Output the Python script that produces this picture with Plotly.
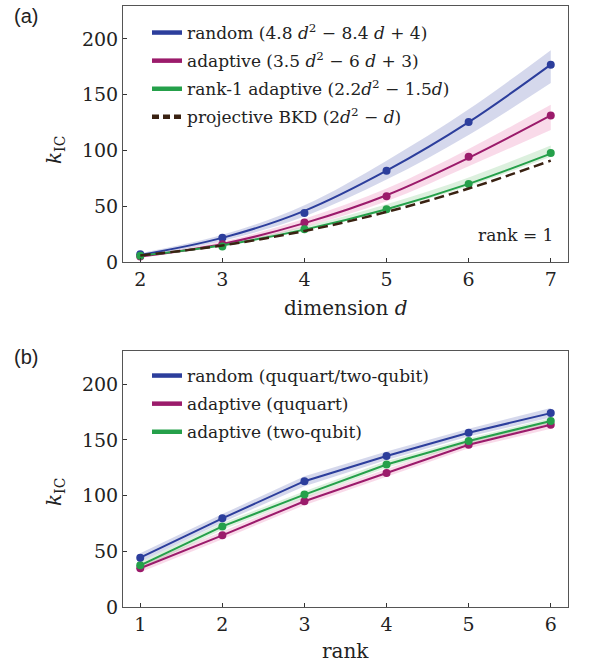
import plotly.graph_objects as go

# ---------------- data: panel (a) ----------------
dims = [2, 3, 4, 5, 6, 7]
rand_pts = [7.2, 21.8, 44.0, 82.0, 125.6, 177.0]
rand_fit = [6.5, 21.8, 46.0, 82.0, 125.5, 177.0]
rand_lo = [5.0, 19.0, 41.0, 74.0, 114.0, 160.5]
rand_hi = [8.0, 24.5, 51.0, 91.0, 137.0, 190.0]

adap_pts = [5.0, 16.0, 35.6, 59.0, 94.5, 131.5]
adap_fit = [5.0, 16.3, 35.0, 60.0, 93.5, 131.5]
adap_lo = [4.0, 14.5, 31.5, 54.5, 86.0, 118.5]
adap_hi = [6.0, 18.5, 39.0, 66.0, 101.5, 141.0]

r1_pts = [5.8, 14.0, 29.6, 47.5, 70.0, 97.8]
r1_fit = [5.8, 15.2, 29.2, 47.5, 70.2, 97.3]
r1_lo = [5.5, 14.0, 28.5, 46.0, 68.0, 94.5]
r1_hi = [6.2, 16.2, 32.0, 52.0, 76.0, 104.5]

bkd_fit = [6.0, 15.0, 28.0, 45.0, 66.0, 91.0]

# ---------------- data: panel (b) ----------------
ranks = [1, 2, 3, 4, 5, 6]
rb_rand = [44.5, 79.7, 113.0, 135.5, 156.4, 174.0]
rb_rand_lo = [40.5, 76.0, 108.5, 132.0, 153.0, 170.0]
rb_rand_hi = [48.5, 83.5, 117.5, 139.5, 160.0, 178.5]

rb_quq = [35.0, 64.5, 95.0, 120.3, 145.7, 163.6]
rb_quq_lo = [31.5, 61.0, 91.5, 117.0, 142.5, 160.0]
rb_quq_hi = [38.5, 68.0, 98.5, 123.5, 149.0, 167.0]

rb_2q = [37.6, 72.5, 101.0, 128.0, 149.0, 167.0]
rb_2q_lo = [34.5, 69.5, 98.0, 125.0, 146.5, 164.5]
rb_2q_hi = [40.5, 75.5, 104.0, 131.0, 151.5, 169.5]

labels_a = [
    "random (4.8 <i>d</i><sup>2</sup> − 8.4 <i>d</i> + 4)",
    "adaptive (3.5 <i>d</i><sup>2</sup> − 6 <i>d</i> + 3)",
    "rank-1 adaptive (2.2<i>d</i><sup>2</sup> − 1.5<i>d</i>)",
    "projective BKD (2<i>d</i><sup>2</sup> − <i>d</i>)",
]
labels_b = [
    "random (ququart/two-qubit)",
    "adaptive (ququart)",
    "adaptive (two-qubit)",
]

BLUE = "#2c3e9c"
MAG = "#9b1b6b"
GREEN = "#25a04a"
BROWN = "#3a2212"
BLUE_F = "rgba(44,62,158,0.20)"
MAG_F = "rgba(230,100,165,0.24)"
GREEN_F = "rgba(60,170,70,0.18)"

SERIF = "DejaVu Serif"

fig = go.Figure()


def band(x, lo, hi, color, xa, ya, shape):
    fig.add_trace(go.Scatter(x=x, y=lo, mode="lines", line=dict(width=0, shape=shape, color=color),
                             showlegend=False, hoverinfo="skip", xaxis=xa, yaxis=ya))
    fig.add_trace(go.Scatter(x=x, y=hi, mode="lines", line=dict(width=0, shape=shape, color=color),
                             fill="tonexty", fillcolor=color, showlegend=False, hoverinfo="skip",
                             xaxis=xa, yaxis=ya))


# panel (a) bands
band(dims, rand_lo, rand_hi, BLUE_F, "x", "y", "spline")
band(dims, adap_lo, adap_hi, MAG_F, "x", "y", "spline")
band(dims, r1_lo, r1_hi, GREEN_F, "x", "y", "spline")

# panel (a) curves + points
for fit, pts, col in [(rand_fit, rand_pts, BLUE), (adap_fit, adap_pts, MAG), (r1_fit, r1_pts, GREEN)]:
    fig.add_trace(go.Scatter(x=dims, y=fit, mode="lines", line=dict(color=col, width=2, shape="spline"),
                             showlegend=False, xaxis="x", yaxis="y"))
    fig.add_trace(go.Scatter(x=dims, y=pts, mode="markers", marker=dict(color=col, size=8),
                             showlegend=False, xaxis="x", yaxis="y"))
fig.add_trace(go.Scatter(x=dims, y=bkd_fit, mode="lines",
                         line=dict(color=BROWN, width=2.5, dash="10px,5px", shape="spline"),
                         showlegend=False, xaxis="x", yaxis="y"))

# legend entries (a)
for i, (lab, col, dash) in enumerate(zip(labels_a, [BLUE, MAG, GREEN, BROWN],
                                         ["solid", "solid", "solid", "7px,4px"])):
    fig.add_trace(go.Scatter(x=[None], y=[None], mode="lines", name=lab, legendgroup=f"a{i}",
                             line=dict(color=col, width=4.5, dash=dash),
                             legend="legend", xaxis="x", yaxis="y"))

# panel (b)
band(ranks, rb_rand_lo, rb_rand_hi, BLUE_F, "x2", "y2", "linear")
band(ranks, rb_quq_lo, rb_quq_hi, MAG_F, "x2", "y2", "linear")
band(ranks, rb_2q_lo, rb_2q_hi, GREEN_F, "x2", "y2", "linear")
for ys, col in [(rb_quq, MAG), (rb_2q, GREEN), (rb_rand, BLUE)]:
    fig.add_trace(go.Scatter(x=ranks, y=ys, mode="lines+markers", line=dict(color=col, width=2),
                             marker=dict(color=col, size=8), showlegend=False, xaxis="x2", yaxis="y2"))
for i, (lab, col) in enumerate(zip(labels_b, [BLUE, MAG, GREEN])):
    fig.add_trace(go.Scatter(x=[None], y=[None], mode="lines", name=lab, legendgroup=f"b{i}",
                             line=dict(color=col, width=4.5),
                             legend="legend2", xaxis="x2", yaxis="y2"))

W, H = 592, 669
xdom = [123 / W, 568 / W]
ydom_a = [1 - 262.2 / H, 1 - 5.5 / H]
ydom_b = [1 - 607.3 / H, 1 - 350.6 / H]

axis_common = dict(showline=True, mirror=True, linecolor="#555555", linewidth=1,
                   ticks="inside", ticklen=4, tickcolor="#333333", showgrid=False,
                   zeroline=False, automargin=False,
                   tickfont=dict(family=SERIF, size=19, color="#222222"))

fig.update_layout(
    width=W, height=H,
    margin=dict(l=0, r=0, t=0, b=0),
    paper_bgcolor="white", plot_bgcolor="white",
    xaxis=dict(domain=xdom, range=[1.79, 7.21], tickvals=dims, anchor="y", **axis_common),
    yaxis=dict(domain=ydom_a, range=[0, 230], tickvals=[0, 50, 100, 150, 200], anchor="x", **axis_common),
    xaxis2=dict(domain=xdom, range=[0.79, 6.21], tickvals=ranks, anchor="y2", **axis_common),
    yaxis2=dict(domain=ydom_b, range=[0, 230], tickvals=[0, 50, 100, 150, 200], anchor="x2", **axis_common),
    legend=dict(x=147 / W, y=1 - 15 / H, xanchor="left", yanchor="top", bgcolor="rgba(0,0,0,0)",
                font=dict(family=SERIF, size=17, color="#222222"), tracegroupgap=3, traceorder="grouped"),
    legend2=dict(x=147 / W, y=1 - 358 / H, xanchor="left", yanchor="top", bgcolor="rgba(0,0,0,0)",
                 font=dict(family=SERIF, size=17, color="#222222"), tracegroupgap=3, traceorder="grouped"),
)

ann_font = dict(family=SERIF, size=20, color="#222222")
fig.add_annotation(text="dimension <i>d</i>", x=(123 + 568) / 2 / W, y=1 - 308 / H, xref="paper", yref="paper",
                   showarrow=False, font=ann_font, xanchor="center", yanchor="middle")
fig.add_annotation(text="rank", x=(123 + 568) / 2 / W, y=1 - 651 / H, xref="paper", yref="paper",
                   showarrow=False, font=ann_font, xanchor="center", yanchor="middle")
for yc in [150, 492]:
    fig.add_annotation(text="<i>k</i><sub>IC</sub>", x=55 / W, y=1 - yc / H, xref="paper", yref="paper",
                       showarrow=False, font=ann_font, textangle=-90, xanchor="center", yanchor="middle")
fig.add_annotation(text="rank = 1", x=555 / W, y=1 - 235 / H, xref="paper", yref="paper",
                   showarrow=False, font=dict(family=SERIF, size=17, color="#222222"),
                   xanchor="right", yanchor="middle")
sans = dict(family="Liberation Sans", size=20, color="#222222")
fig.add_annotation(text="(a)", x=12 / W, y=1 - 16 / H, xref="paper", yref="paper",
                   showarrow=False, font=sans, xanchor="left", yanchor="middle")
fig.add_annotation(text="(b)", x=12 / W, y=1 - 357 / H, xref="paper", yref="paper",
                   showarrow=False, font=sans, xanchor="left", yanchor="middle")

fig.write_html("out.html", config={"displayModeBar": False},
               post_script="document.body.style.margin='0';")
